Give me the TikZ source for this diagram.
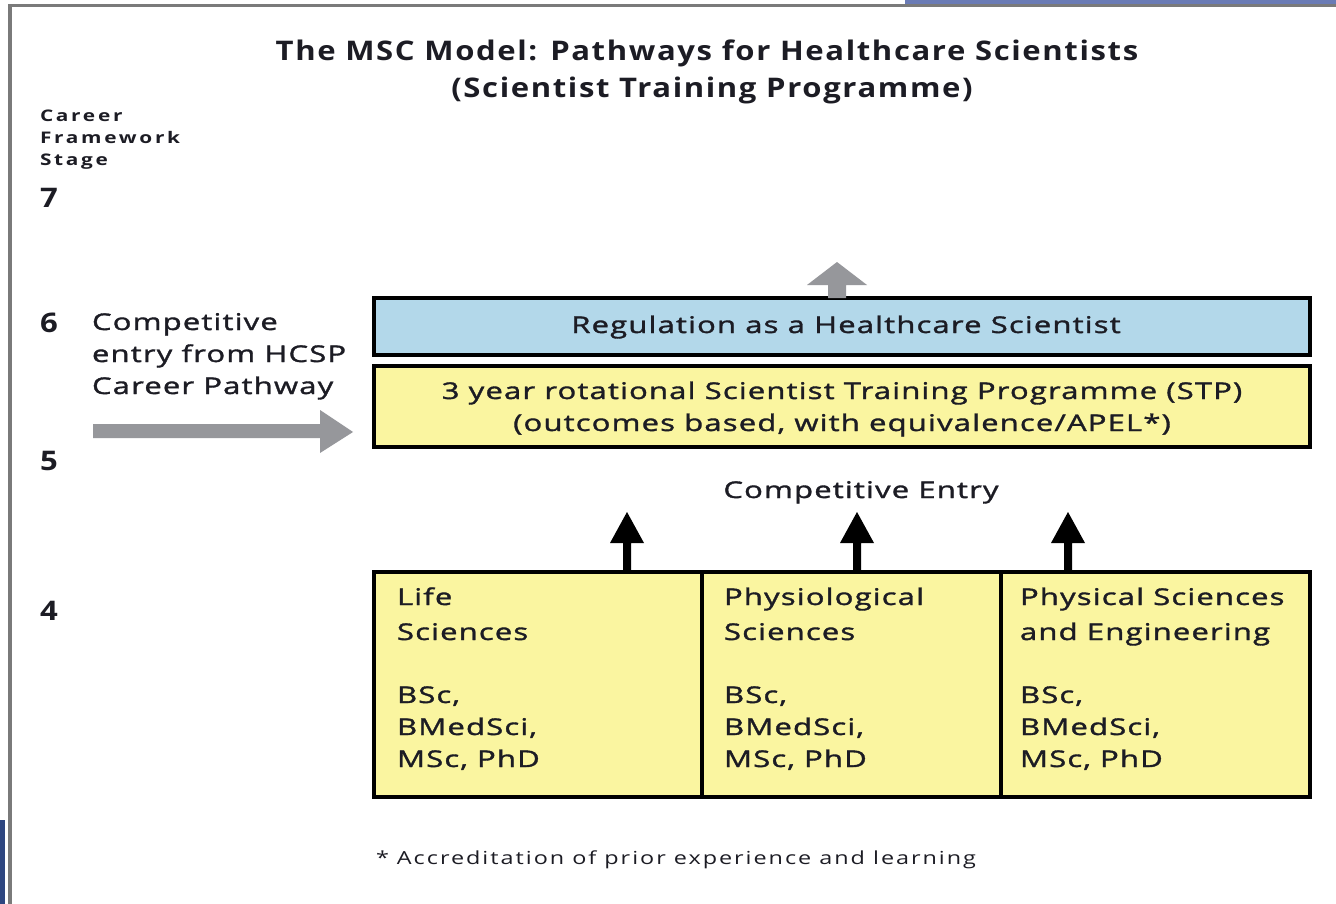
\documentclass[tikz,border=0pt]{standalone}
\usepackage{fontspec}
\usetikzlibrary{calc}
\setmainfont{Open Sans}
\newfontfamily\bodyfont[FakeStretch=1.35,LetterSpace=5,FakeBold=1.5]{Open Sans}
\newfontfamily\stagefont[FakeStretch=1.3,LetterSpace=17]{Open Sans}
\newfontfamily\titlefont[FakeStretch=1.15,LetterSpace=6]{Open Sans}
\newfontfamily\notefont[FakeStretch=1.3,LetterSpace=11]{Open Sans}
\definecolor{frame}{HTML}{7A7A7A}
\definecolor{topbar}{HTML}{6A7BB5}
\definecolor{sidebar}{HTML}{2E4680}
\definecolor{regblue}{HTML}{B3D8EA}
\definecolor{stpyellow}{HTML}{FAF5A0}
\definecolor{greyarrow}{HTML}{96979B}
\definecolor{ink}{HTML}{1C1C24}
\begin{document}
\begin{tikzpicture}[x=1pt,y=-1pt,
  every node/.style={inner sep=0pt,outer sep=0pt,text=ink},
  title/.style={anchor=base,font=\titlefont\bfseries\fontsize{27}{32}\selectfont},
  stage/.style={anchor=base west,font=\stagefont\bfseries\fontsize{16}{19}\selectfont},
  level/.style={anchor=base west,font=\titlefont\bfseries\fontsize{27}{32}\selectfont},
  label/.style={anchor=base west,font=\bodyfont\fontsize{23}{27}\selectfont},
  clabel/.style={anchor=base,font=\bodyfont\fontsize{23}{27}\selectfont},
  note/.style={anchor=base west,font=\notefont\fontsize{18}{21}\selectfont},
  panel/.style={draw=black,line width=3.5pt,anchor=north west}]
\useasboundingbox (0,0) rectangle (1336,904);
\fill[white] (0,0) rectangle (1336,904);
% page edge
\fill[frame] (8,4) rectangle (1336,7);
\fill[frame] (8,4) rectangle (12,904);
\fill[topbar] (905,0) rectangle (1336,4);
\fill[sidebar] (0,820) rectangle (5,904);

% title
\node[title] (t1) at (707,61) {The MSC Model: Pathways for Healthcare Scientists};
\node[title] (t2) at (712,98) {(Scientist Training Programme)};

% career framework stages
\node[stage] (cs1) at (40,122) {Career};
\node[stage] (cs2) at (40,144) {Framework};
\node[stage] (cs3) at (40,166) {Stage};
\node[level] (l7) at (40,208) {7};
\node[level] (l6) at (40,332) {6};
\node[level] (l5) at (40,470) {5};
\node[level] (l4) at (40,620) {4};

% entry from the HCSP pathway
\node[label] (h1) at (92,330) {Competitive};
\node[label] (h2) at (92,362) {entry from HCSP};
\node[label] (h3) at (92,394) {Career Pathway};

% regulation and STP panels
\node[panel,fill=regblue,minimum width=936pt,minimum height=57pt] (reg) at (374,298) {};
\node[clabel] (regtxt) at (846,333) {Regulation as a Healthcare Scientist};
\node[panel,fill=stpyellow,minimum width=936pt,minimum height=81pt] (stp) at (374,366) {};
\node[clabel] (stp1) at (842,399) {3 year rotational Scientist Training Programme (STP)};
\node[clabel] (stp2) at (842,431) {(outcomes based, with equivalence/APEL*)};

% grey block arrows
\coordinate (hin) at (93,431);
\coordinate (regup) at (837,298);
\fill[greyarrow] (hin) ++(0,-7) -- ++(227,0) -- ++(0,-14) -- ++(33,22) -- ++(-33,21) -- ++(0,-15) -- ++(-227,0) -- cycle;
\fill[greyarrow] (regup) ++(-9,0) -- ++(0,-13) -- ++(-21,0) -- ++(30,-23) -- ++(30,23) -- ++(-21,0) -- ++(0,13) -- cycle;

% entry level
\node[clabel] (ce) at (861,498) {Competitive Entry};
\node[panel,fill=stpyellow,minimum width=328pt,minimum height=225pt] (life) at (374,572) {};
\node[panel,fill=stpyellow,minimum width=299pt,minimum height=225pt] (phys) at (702,572) {};
\node[panel,fill=stpyellow,minimum width=309pt,minimum height=225pt] (eng) at (1001,572) {};

% black block arrows towards competitive entry
\foreach \ax/\nm in {627/a1,857/a2,1068/a3}{
  \coordinate (\nm) at (\ax,572);
  \fill[black] (\nm) ++(-4,0) -- ++(0,-29) -- ++(-13,0) -- ++(17,-31) -- ++(17,31) -- ++(-13,0) -- ++(0,29) -- cycle;
}

% degree routes
\node[label] at (397,605) {Life};
\node[label] at (397,640) {Sciences};
\node[label] at (724,605) {Physiological};
\node[label] at (724,640) {Sciences};
\node[label] at (1020,605) {Physical Sciences};
\node[label] at (1020,640) {and Engineering};
\foreach \bx in {397,724,1020}{
  \node[label] at (\bx,703) {BSc,};
  \node[label] at (\bx,735) {BMedSci,};
  \node[label] at (\bx,767) {MSc, PhD};
}

% footnote
\node[note] (fn) at (376,864) {* Accreditation of prior experience and learning};
\end{tikzpicture}
\end{document}
